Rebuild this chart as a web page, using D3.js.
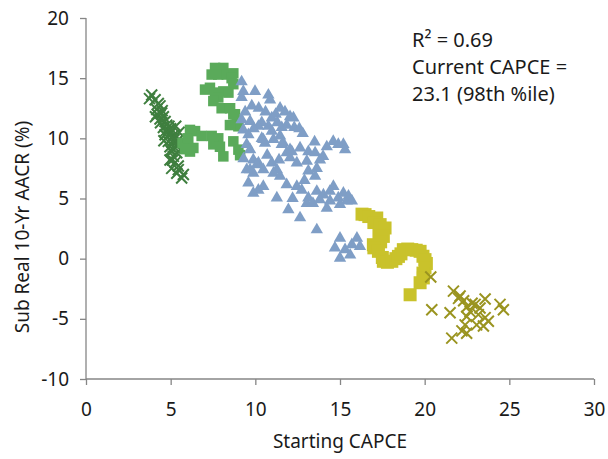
<!DOCTYPE html>
<html>
<head>
<meta charset="utf-8">
<script src="https://cdn.jsdelivr.net/npm/d3@7"></script>
<style>
  body { margin: 0; background: #fff; }
  text { font-family: "Noto Sans", sans-serif; fill: #1a1a1a; }
</style>
</head>
<body>
<div id="chart"></div>
<script>
const X_TICKS = [0, 5, 10, 15, 20, 25, 30];
const Y_TICKS = [-10, -5, 0, 5, 10, 15, 20];
const X_LABEL = "Starting CAPCE";
const Y_LABEL = "Sub Real 10-Yr AACR (%)";
const NOTE_LINES = ["R² = 0.69", "Current CAPCE =", "23.1 (98th %ile)"];

// [starting CAPCE, subsequent real 10-yr return]
const darkGreenX = [
  [3.88, 13.6], [3.75, 13.3], [4.08, 13.2], [4.27, 12.9], [4.37, 12.7], [4.18, 12.4],
  [4.47, 12.1], [4.2, 12.0], [4.57, 11.8], [4.1, 11.8], [4.37, 11.6], [4.67, 11.4],
  [4.4, 11.3], [4.77, 11.1], [4.57, 10.9], [4.9, 11.0], [4.86, 10.7], [4.7, 10.6],
  [4.96, 10.4], [4.67, 10.3], [5.2, 10.3], [5.06, 10.0], [5.4, 9.8], [4.86, 9.75],
  [4.6, 9.8], [5.16, 9.6], [4.96, 9.3], [5.26, 9.2], [5.06, 8.9], [5.0, 9.0],
  [5.36, 8.8], [5.16, 8.5], [4.96, 8.2], [5.1, 8.2], [5.26, 8.0], [5.45, 7.7],
  [5.06, 7.5], [5.45, 7.4], [5.36, 7.1], [5.75, 7.0], [5.65, 6.7], [5.5, 10.5],
  [5.3, 11.0], [4.5, 12.3], [5.2, 9.9], [5.0, 10.8], [5.35, 9.4]
];
const lightGreenSq = [
  [7.62, 15.85], [8.11, 15.85], [7.42, 15.3], [7.81, 15.3], [8.31, 15.3], [8.7, 15.4],
  [8.6, 15.0], [8.7, 14.5], [7.03, 14.05], [7.32, 14.2], [7.62, 13.8], [8.11, 13.9],
  [8.41, 13.8], [7.81, 13.4], [7.52, 13.1], [8.01, 12.5], [8.51, 12.5], [8.7, 12.0],
  [8.9, 11.4], [9.0, 11.0], [8.5, 11.1], [6.14, 10.7], [6.44, 10.6], [6.83, 10.2],
  [6.04, 9.75], [6.34, 9.2], [6.14, 8.9], [5.7, 9.6], [5.85, 9.1], [6.0, 10.0],
  [7.42, 10.2], [7.81, 10.0], [7.52, 9.5], [7.91, 9.3], [8.11, 8.5], [8.7, 9.75],
  [9.0, 9.06], [9.1, 8.6], [8.8, 12.0]
];
const blueTri = [
  [9.19, 14.7], [9.29, 13.9], [9.19, 13.4], [9.98, 13.9], [10.77, 13.6], [10.87, 13.2],
  [9.79, 12.7], [11.46, 12.5], [11.75, 12.2], [12.05, 11.8], [12.25, 11.7], [10.97, 11.7],
  [10.38, 11.3], [9.69, 11.4], [9.19, 11.55], [10.18, 11.0], [9.29, 10.7], [9.59, 10.3],
  [10.38, 10.0], [10.97, 10.6], [11.07, 9.9], [11.46, 10.2], [11.65, 9.6], [12.05, 9.06],
  [12.64, 9.2], [13.13, 8.9], [13.53, 8.8], [14.22, 9.3], [14.6, 9.75], [15.2, 9.5],
  [15.3, 9.06], [12.05, 8.4], [12.45, 7.95], [13.04, 8.1], [13.63, 7.5], [9.49, 9.5],
  [9.69, 9.06], [9.88, 8.2], [10.18, 7.95], [10.97, 7.95], [11.27, 7.4], [9.69, 7.4],
  [11.85, 8.8], [11.56, 10.9], [11.85, 11.1], [10.77, 11.0], [10.57, 9.6], [10.47, 9.9],
  [11.56, 9.5], [12.15, 8.9], [14.9, 9.5], [13.82, 8.2], [13.13, 7.3], [13.53, 6.85],
  [10.08, 7.8], [10.47, 7.4], [9.88, 7.1], [9.59, 6.3], [10.18, 5.7], [11.07, 7.1],
  [11.46, 6.85], [11.85, 6.15], [12.45, 6.0], [12.74, 5.7], [13.13, 5.05], [13.63, 5.6],
  [14.02, 5.3], [14.41, 4.8], [14.9, 5.05], [15.4, 4.8], [15.7, 4.8], [14.61, 6.0],
  [15.2, 5.45], [11.27, 5.05], [11.95, 4.07], [12.64, 3.4], [13.63, 2.4], [15.0, 1.7],
  [15.7, 1.16], [16.18, 1.02], [15.3, 0.75], [15.0, 0.05], [9.88, 5.45], [10.47, 6.0],
  [9.49, 7.4], [13.04, 4.6], [14.22, 4.2], [12.8, 10.4], [12.3, 10.9], [13.5, 9.7],
  [14.0, 8.5], [10.2, 12.5], [11.2, 12.0], [13.4, 4.6], [13.8, 4.9], [14.4, 5.6],
  [15.5, 5.2], [15.0, 4.5], [12.2, 5.0], [12.9, 6.5], [15.6, 0.3], [16.0, 1.7],
  [14.7, 0.9], [9.4, 12.2], [9.9, 10.8], [10.6, 12.2], [11.3, 11.3], [12.6, 10.8],
  [9.3, 8.3], [10.7, 8.6], [11.4, 8.2]
];
const yellowSq = [
  [16.3, 3.7], [16.48, 3.66], [16.7, 3.5], [17.17, 3.38], [17.0, 3.0], [17.37, 2.83],
  [17.66, 2.55], [17.3, 2.0], [17.56, 1.85], [17.4, 1.4], [16.97, 1.16], [17.0, 0.9],
  [17.27, 0.61], [17.5, 0.1], [17.56, -0.22], [17.8, -0.3], [18.06, -0.22], [18.3, 0.0],
  [18.45, 0.19], [18.6, 0.4], [18.74, 0.75], [19.0, 0.8], [19.24, 0.75], [19.5, 0.7],
  [19.73, 0.61], [19.9, 0.2], [20.02, -0.08], [20.1, -0.4], [20.02, -0.77], [19.9, -1.2],
  [19.92, -1.6], [19.73, -2.0], [19.14, -3.0]
];
const oliveX = [
  [20.36, -1.52], [20.42, -4.24], [21.5, -4.5], [21.7, -2.7], [22.0, -3.3], [22.3, -3.5],
  [22.5, -4.0], [22.8, -3.7], [22.98, -3.8], [23.27, -4.1], [23.57, -3.35], [24.45, -3.8],
  [24.65, -4.24], [22.68, -4.4], [22.48, -4.8], [23.17, -4.65], [23.57, -4.9], [23.76, -5.2],
  [23.07, -5.5], [22.39, -5.5], [22.2, -6.0], [22.48, -6.2], [21.6, -6.6], [23.47, -5.6],
  [22.09, -3.1]
];

const width = 608;
const height = 459;
const axisColor = "#868686";

const x = d3.scaleLinear().domain([0, 30]).range([86, 594]);
const y = d3.scaleLinear().domain([-10, 20]).range([379, 18]);

const svg = d3
  .select("#chart")
  .append("svg")
  .attr("width", width)
  .attr("height", height);

// axes, plain hyphen for negatives like the source
const fmt = (d) => `${d}`;

const xAxis = svg
  .append("g")
  .attr("transform", `translate(0,${y(-10)})`)
  .call(d3.axisBottom(x).tickValues(X_TICKS).tickFormat(fmt).tickSize(6).tickPadding(18));

const yAxis = svg
  .append("g")
  .attr("transform", `translate(${x(0)},0)`)
  .call(d3.axisLeft(y).tickValues(Y_TICKS).tickFormat(fmt).tickSize(6).tickPadding(11));

for (const g of [xAxis, yAxis]) {
  g.select(".domain").attr("stroke", axisColor).attr("stroke-width", 1.3);
  g.selectAll(".tick line").attr("stroke", axisColor).attr("stroke-width", 1.3);
  g.selectAll(".tick text")
    .attr("font-size", 19)
    .attr("font-family", "'Noto Sans', sans-serif")
    .attr("fill", "#1a1a1a");
}
xAxis.select(".domain").attr("d", `M${x(0)},0H${x(30)}`);
yAxis.select(".domain").attr("d", `M0,${y(20)}V${y(-10)}`);

// markers
function drawX(data, color) {
  const g = svg.append("g").attr("stroke", color).attr("stroke-width", 2).attr("fill", "none");
  g.selectAll("path")
    .data(data)
    .join("path")
    .attr("d", (d) => {
      const cx = x(d[0]);
      const cy = y(d[1]);
      const r = 5.5;
      return `M${cx - r},${cy - r}L${cx + r},${cy + r}M${cx - r},${cy + r}L${cx + r},${cy - r}`;
    });
}

function drawSquares(data, color, size) {
  svg
    .append("g")
    .attr("fill", color)
    .selectAll("rect")
    .data(data)
    .join("rect")
    .attr("x", (d) => x(d[0]) - size / 2)
    .attr("y", (d) => y(d[1]) - size / 2)
    .attr("width", size)
    .attr("height", size);
}

drawX(darkGreenX, "#3f7f3f");
drawSquares(lightGreenSq, "#5aaa5a", 10.5);

svg
  .append("g")
  .attr("fill", "#7f9ec6")
  .selectAll("path")
  .data(blueTri)
  .join("path")
  .attr("transform", (d) => `translate(${x(d[0])},${y(d[1])})`)
  .attr("d", d3.symbol(d3.symbolTriangle, 66));

drawSquares(yellowSq, "#c9c22b", 13);
drawX(oliveX, "#9a9420");

// annotation
svg
  .append("g")
  .selectAll("text")
  .data(NOTE_LINES)
  .join("text")
  .attr("x", 412)
  .attr("y", (d, i) => 47 + i * 27)
  .attr("font-size", 20)
  .text((d) => d);

// axis titles
svg
  .append("text")
  .attr("x", 340)
  .attr("y", 448)
  .attr("text-anchor", "middle")
  .attr("font-size", 19)
  .text(X_LABEL);

svg
  .append("text")
  .attr("transform", `translate(29,227) rotate(-90)`)
  .attr("text-anchor", "middle")
  .attr("font-size", 19)
  .text(Y_LABEL);
</script>
</body>
</html>
